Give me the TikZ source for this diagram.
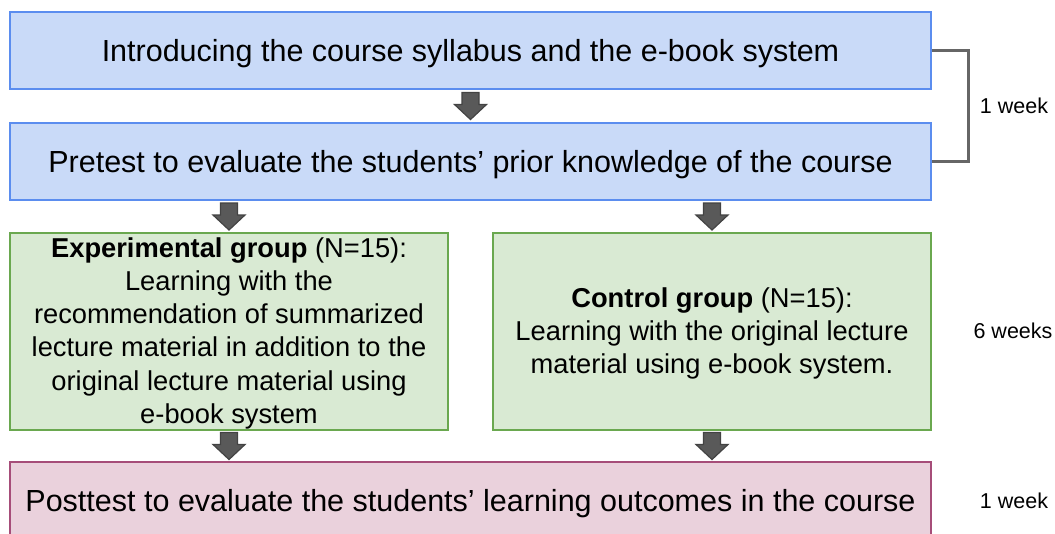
\documentclass[tikz,border=0pt]{standalone}
\usepackage{fontspec}
\setmainfont{Liberation Sans}
\usetikzlibrary{calc}

\definecolor{blueFill}{HTML}{C9DAF8}
\definecolor{blueLine}{HTML}{5B8DEF}
\definecolor{greenFill}{HTML}{D9EAD3}
\definecolor{greenLine}{HTML}{6AA84F}
\definecolor{pinkFill}{HTML}{EAD1DC}
\definecolor{pinkLine}{HTML}{A64D79}
\definecolor{arrowFill}{HTML}{595959}
\definecolor{arrowLine}{HTML}{434343}
\definecolor{bracketLine}{HTML}{666666}

\tikzset{
  stagebox/.style={draw, line width=2pt, inner sep=0pt, align=center,
    font=\fontsize{30.5}{37}\selectfont},
  % one-line stages: centre the capitals in the box
  lineonly/.style={text height=21.8pt, text depth=0pt},
  bluebox/.style={stagebox, lineonly, draw=blueLine, fill=blueFill},
  pinkbox/.style={stagebox, lineonly, draw=pinkLine, fill=pinkFill},
  groupbox/.style={stagebox, draw=greenLine, fill=greenFill,
    font=\fontsize{27.3}{33.2}\selectfont},
  durlabel/.style={font=\fontsize{21.5}{26}\selectfont, inner sep=0pt},
  pics/downarrow/.style={code={
    \filldraw[fill=arrowFill, draw=arrowLine, line width=1.2pt, line join=miter]
      (-8.5,-13.5) -- (8.5,-13.5) -- (8.5,-1.5) -- (16,-1.5) -- (0,13.5)
      -- (-16,-1.5) -- (-8.5,-1.5) -- cycle;
  }},
}

\begin{document}
\begin{tikzpicture}[x=1pt, y=-1pt]
  \useasboundingbox (0,0) rectangle (1055,533);
  \clip (0,0) rectangle (1055,533);
  \fill[white] (0,0) rectangle (1055,533);

  % stage boxes
  \node[bluebox, minimum width=921, minimum height=77] (intro) at (470.5,50.5)
    {Introducing the course syllabus and the e-book system};
  \node[bluebox, minimum width=921, minimum height=77] (pre) at (470.5,161.5)
    {Pretest to evaluate the students’ prior knowledge of the course};
  % the trailing empty line trims the last descender so the block sits lower
  \node[groupbox, minimum width=438, minimum height=197] (exp) at (229,331.5)
    {\textbf{Experimental group} (N=15):\\
     Learning with the\\
     recommendation of summarized\\
     lecture material in addition to the\\
     original lecture material using\\
     e-book system\\[-31.2pt]\mbox{}};
  \node[groupbox, minimum width=438, minimum height=197] (ctl) at (712,331.5)
    {\textbf{Control group} (N=15):\\
     Learning with the original lecture\\
     material using e-book system.\\[-31.2pt]\mbox{}};
  \node[pinkbox, minimum width=921, minimum height=78] (post) at (470.5,501)
    {Posttest to evaluate the students’ learning outcomes in the course};

  % block arrows between stages
  \path (intro.south) -- (pre.north) pic[pos=0.5]{downarrow};
  \path (exp.north |- pre.south) -- (exp.north) pic[pos=0.5]{downarrow};
  \path (ctl.north |- pre.south) -- (ctl.north) pic[pos=0.5]{downarrow};
  \path (exp.south) -- (exp.south |- post.north) pic[pos=0.5]{downarrow};
  \path (ctl.south) -- (ctl.south |- post.north) pic[pos=0.5]{downarrow};

  % bracket joining the first two stages
  \coordinate (brTop) at ($(intro.east)+(36,0)$);
  \coordinate (brBot) at ($(pre.east)+(36,0)$);
  \draw[bracketLine, line width=3pt, line join=miter]
    (intro.east) -- (brTop) -- (brBot) -- (pre.east);

  % durations
  \node[durlabel] (w1) at (1014,106) {1 week};
  \node[durlabel] (w6) at (1013,331) {6 weeks};
  \node[durlabel] (w1b) at (1014,501) {1 week};
\end{tikzpicture}
\end{document}
